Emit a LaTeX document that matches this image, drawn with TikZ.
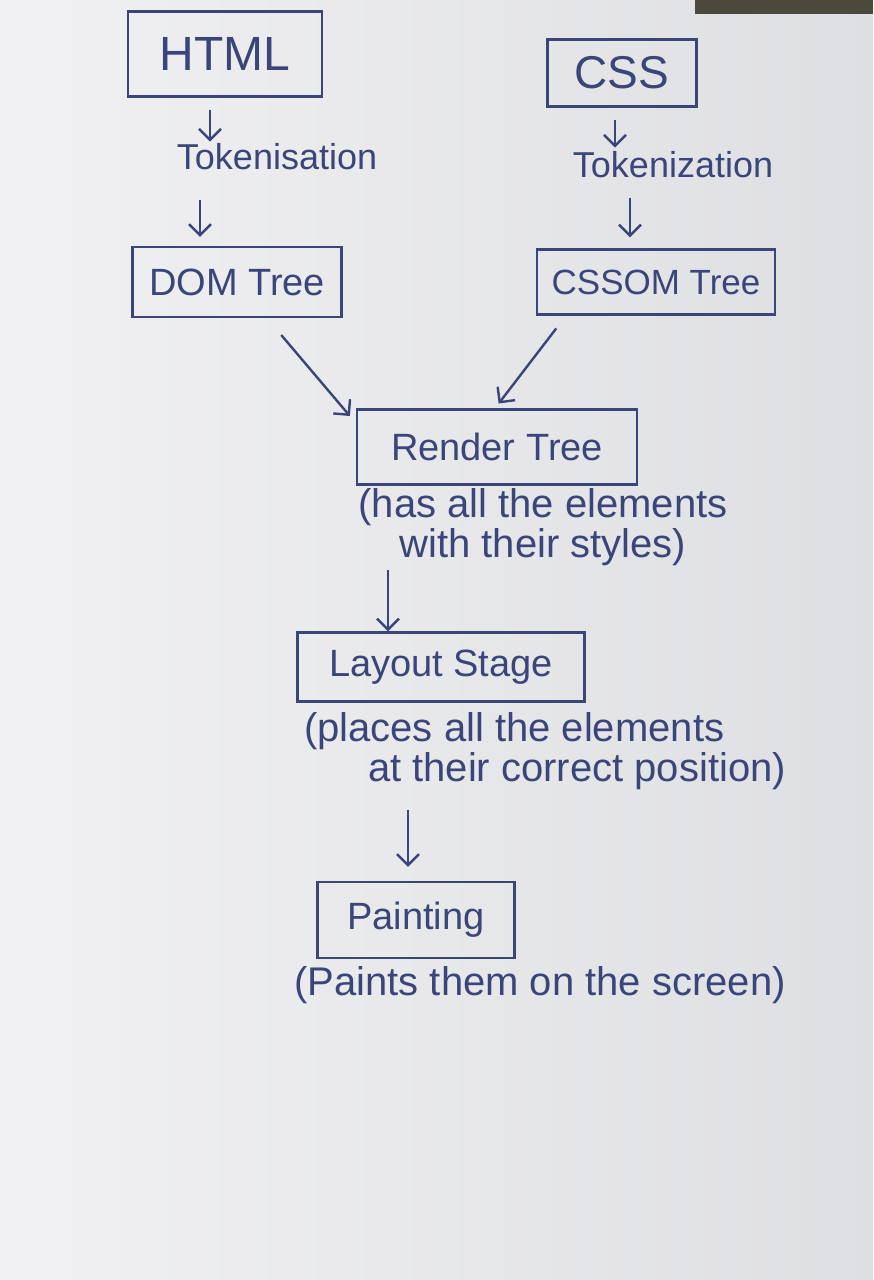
\documentclass[tikz,border=0pt]{standalone}
\usepackage{fontspec}
\setmainfont{Liberation Sans}
\usepackage{tikz}
\usetikzlibrary{arrows.meta}
\definecolor{ink}{HTML}{3A4679}
\definecolor{paperL}{HTML}{F1F1F3}
\definecolor{paperR}{HTML}{DEDFE2}
\definecolor{strip}{HTML}{4B4A3A}

\begin{document}
\begin{tikzpicture}[x=1pt,y=-1pt,
    box/.style={draw=ink, line width=2.4pt, text=ink, inner sep=0pt,
                font=\fontsize{38}{44}\selectfont},
    note/.style={text=ink, align=center, inner sep=0pt,
                 font=\fontsize{40}{40}\selectfont},
    tok/.style={text=ink, inner sep=2pt, font=\fontsize{36}{40}\selectfont},
    arr/.style={draw=ink, line width=2.4pt,
                -{Straight Barb[length=11pt,width=22pt]}}]
            \useasboundingbox (0,0) rectangle (873,1280);
            \shade[left color=paperL, right color=paperR] (0,0) rectangle (873,1280);
            \fill[strip] (695,0) rectangle (873,14);
            \node[box, minimum width=194pt, minimum height=85pt, font=\fontsize{48}{50}\selectfont] (html) at (225,54) {HTML};
            \node[box, minimum width=149pt, minimum height=67pt, font=\fontsize{46}{50}\selectfont] (css) at (622,73) {CSS};
            \node[tok] (tokL) at (277,157) {Tokenisation};
            \node[tok] (tokR) at (673,165) {Tokenization};
            \node[box, minimum width=209pt, minimum height=70pt] (dom) at (237,282) {DOM Tree};
            \node[box, minimum width=238pt, minimum height=65pt, font=\fontsize{35}{40}\selectfont] (cssom) at (656,282) {CSSOM Tree};
            \node[box, minimum width=280pt, minimum height=75pt] (render) at (497,447) {Render Tree};
            \node[note] (noteR) at (543,527) {(has all the elements\\with their styles)};
            \node[note, align=left] (noteL) at (545,751) {(places all the elements\\\hspace{1.6em}at their correct position)};
            \node[box, minimum width=287pt, minimum height=69pt] (layout) at (441,667) {Layout Stage};
            \node[box, minimum width=197pt, minimum height=76pt] (paint) at (416,920) {Painting};
            \node[note] (noteP) at (540,985) {(Paints them on the screen)};
            \draw[arr, shorten <=12pt] ([xshift=-15pt]html.south) -- ([xshift=-15pt]html.south |- tokL.north);
            \draw[arr, shorten <=28pt, shorten >=9pt] ([xshift=-77pt]tokL.south) -- ([xshift=-37pt]dom.north);
            \draw[arr, shorten <=12pt, shorten >=2pt] ([xshift=-7pt]css.south) -- ([xshift=-7pt]css.south |- tokR.north);
            \draw[arr, shorten <=18pt, shorten >=11pt] ([xshift=-43pt]tokR.south) -- ([xshift=-26pt]cssom.north);
            \draw[arr, shorten <=22pt, shorten >=3pt] ([xshift=30pt]dom.south) -- ([xshift=-4pt,yshift=-10pt]render.north west);
            \draw[arr, shorten <=16pt, shorten >=6pt] ([xshift=-90pt]cssom.south) -- ([xshift=-2pt]render.north);
            \draw[arr, shorten <=4pt] ([xshift=-53pt]layout.north |- noteR.south) -- ([xshift=-53pt]layout.north);
            \draw[arr, shorten <=20pt, shorten >=14pt] ([xshift=-8pt]paint.north |- noteL.south) -- ([xshift=-8pt]paint.north);
\end{tikzpicture}
\end{document}
